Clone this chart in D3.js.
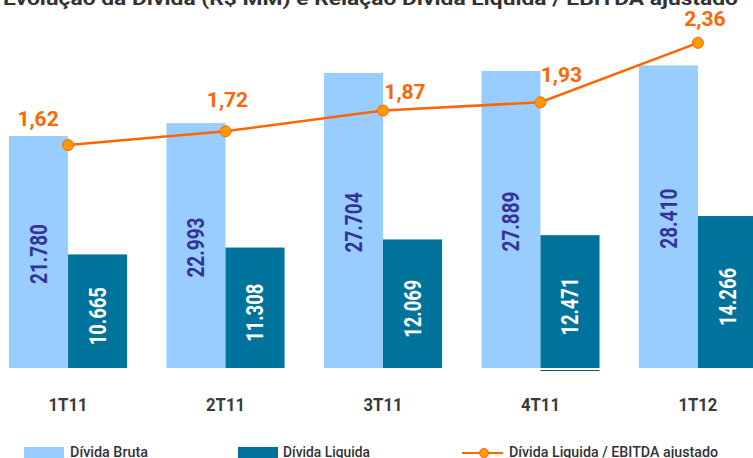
<!DOCTYPE html>
<html>
<head>
<meta charset="utf-8">
<script src="https://cdn.jsdelivr.net/npm/d3@7"></script>
<style>
  html, body { margin: 0; padding: 0; background: #fff; overflow: hidden; }
  svg { display: block; font-family: Roboto, "DejaVu Sans", sans-serif; }
</style>
</head>
<body>
<div id="chart"></div>
<script>
// Chart data
const quarters = ["1T11", "2T11", "3T11", "4T11", "1T12"];
const dividaBruta = [21780, 22993, 27704, 27889, 28410];
const dividaLiquida = [10665, 11308, 12069, 12471, 14266];
const ratio = [1.62, 1.72, 1.87, 1.93, 2.36];
const ratioLabels = ["1,62", "1,72", "1,87", "1,93", "2,36"];
const fmt = v => d3.format(",")(v).replace(/,/g, ".");

// layout: where the ratio labels sit relative to their point
const labelDx = [-30, 2, 22, 21, 7];
const labelDy = [-19, -24, -12, -20, -17];

const width = 753, height = 458;
const colors = { bruta: "#99ccff", liquida: "#00739c", line: "#ff6600", marker: "#ff9900" };

const svg = d3.select("#chart").append("svg")
  .attr("width", width)
  .attr("height", height);

// title, mostly cut off at the top edge
svg.append("text")
  .attr("x", 3)
  .attr("y", 5)
  .attr("font-size", 19)
  .attr("font-weight", "bold")
  .attr("fill", "#333")
  .attr("textLength", 735)
  .attr("lengthAdjust", "spacingAndGlyphs")
  .text("Evolução da Dívida (R$ MM) e Relação Dívida Líquida / EBITDA ajustado");

// scales
const x0 = d3.scaleBand()
  .domain(quarters)
  .range([9, 757])
  .paddingInner(0.25)
  .paddingOuter(0);

const x1 = d3.scaleBand()
  .domain(["bruta", "liquida"])
  .range([0, x0.bandwidth()])
  .padding(0);

const yBar = d3.scaleLinear().domain([0, 34550]).range([368, 0]);
const yLine = d3.scaleLinear().domain([0, 2.67]).range([369, 0]);

const rows = quarters.map((q, i) => ({
  q, bruta: dividaBruta[i], liquida: dividaLiquida[i], ratio: ratio[i], label: ratioLabels[i], i
}));

// bars
const groups = svg.selectAll("g.group")
  .data(rows)
  .enter()
  .append("g")
  .attr("class", "group")
  .attr("transform", d => `translate(${x0(d.q)},0)`);

["bruta", "liquida"].forEach(key => {
  groups.append("rect")
    .attr("x", x1(key))
    .attr("y", d => yBar(d[key]))
    .attr("width", x1.bandwidth())
    .attr("height", d => yBar(0) - yBar(d[key]))
    .attr("fill", colors[key]);

  // rotated value labels inside the bars
  groups.append("text")
    .attr("transform", d => {
      const cx = x1(key) + x1.bandwidth() / 2;
      const cy = (yBar(d[key]) + yBar(0)) / 2 + (key === "bruta" ? 2 : 5);
      return `translate(${cx},${cy}) rotate(-90)`;
    })
    .attr("text-anchor", "middle")
    .attr("dy", "0.36em")
    .attr("font-size", 23)
    .attr("font-weight", "bold")
    .attr("fill", key === "bruta" ? "#333399" : "#ffffff")
    .attr("textLength", key === "bruta" ? 60 : 58)
    .attr("lengthAdjust", "spacingAndGlyphs")
    .text(d => fmt(d[key]));
});

// small stray rule under the 4T11 net-debt bar, as in the original
svg.append("line")
  .attr("x1", x0("4T11") + x1("liquida"))
  .attr("x2", x0("4T11") + x1("liquida") + x1.bandwidth())
  .attr("y1", yBar(0) + 2.5)
  .attr("y2", yBar(0) + 2.5)
  .attr("stroke", "#1a4f6a")
  .attr("stroke-width", 1);

// ratio line
const cx = d => x0(d.q) + x0.bandwidth() / 2;
const line = d3.line()
  .x(cx)
  .y(d => yLine(d.ratio));

svg.append("path")
  .datum(rows)
  .attr("d", line)
  .attr("fill", "none")
  .attr("stroke", colors.line)
  .attr("stroke-width", 2.5);

svg.selectAll("circle.pt")
  .data(rows)
  .enter()
  .append("circle")
  .attr("class", "pt")
  .attr("cx", cx)
  .attr("cy", d => yLine(d.ratio))
  .attr("r", 5.5)
  .attr("fill", colors.marker)
  .attr("stroke", colors.line)
  .attr("stroke-width", 1);

svg.selectAll("text.ratio")
  .data(rows)
  .enter()
  .append("text")
  .attr("class", "ratio")
  .attr("x", d => cx(d) + labelDx[d.i])
  .attr("y", d => yLine(d.ratio) + labelDy[d.i])
  .attr("text-anchor", "middle")
  .attr("font-size", 21)
  .attr("font-weight", "bold")
  .attr("fill", colors.line)
  .text(d => d.label);

// category labels
svg.selectAll("text.cat")
  .data(quarters)
  .enter()
  .append("text")
  .attr("class", "cat")
  .attr("x", d => x0(d) + x0.bandwidth() / 2)
  .attr("y", 411)
  .attr("text-anchor", "middle")
  .attr("font-size", 19)
  .attr("font-weight", "bold")
  .attr("fill", "#3a3a3a")
  .attr("textLength", 39)
  .attr("lengthAdjust", "spacingAndGlyphs")
  .text(d => d);

// legend
const legend = svg.append("g").attr("class", "legend");
const legendItems = [
  { label: "Dívida Bruta", type: "rect", color: colors.bruta, x: 24, tx: 70, tl: 78 },
  { label: "Dívida Liquida", type: "rect", color: colors.liquida, x: 238, tx: 283, tl: 87 },
  { label: "Dívida Liquida  / EBITDA ajustado", type: "line", color: colors.line, x: 462, tx: 509, tl: 209 }
];

legendItems.forEach(item => {
  if (item.type === "rect") {
    legend.append("rect")
      .attr("x", item.x)
      .attr("y", 447)
      .attr("width", 40)
      .attr("height", 12)
      .attr("fill", item.color);
  } else {
    legend.append("line")
      .attr("x1", item.x)
      .attr("x2", item.x + 41)
      .attr("y1", 453)
      .attr("y2", 453)
      .attr("stroke", item.color)
      .attr("stroke-width", 2);
    legend.append("circle")
      .attr("cx", item.x + 22)
      .attr("cy", 453)
      .attr("r", 4.5)
      .attr("fill", colors.marker)
      .attr("stroke", colors.line)
      .attr("stroke-width", 1);
  }
  legend.append("text")
    .attr("x", item.tx)
    .attr("y", 457)
    .attr("font-size", 14)
    .attr("font-weight", 500)
    .attr("fill", "#333")
    .attr("textLength", item.tl)
    .attr("lengthAdjust", "spacingAndGlyphs")
    .text(item.label);
});
</script>
</body>
</html>
